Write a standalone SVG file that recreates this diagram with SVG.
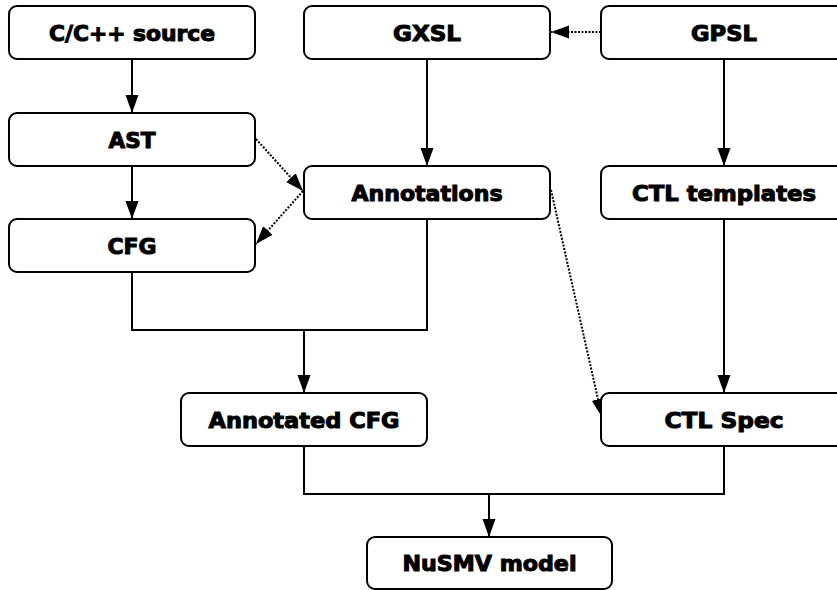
<svg xmlns="http://www.w3.org/2000/svg" width="837" height="590" viewBox="0 0 837 590">
<style>
.box{fill:#fff;stroke:#000;stroke-width:2}
.lbl{font-family:"DejaVu Sans","Liberation Sans",sans-serif;font-weight:bold;font-size:20.5px;fill:#000;stroke:#000;stroke-width:1;text-anchor:middle}
.solid{fill:none;stroke:#000;stroke-width:2}
.dot{fill:none;stroke:#000;stroke-width:2;stroke-dasharray:2 1.5}
</style>
<defs>
<marker id="ah" markerUnits="userSpaceOnUse" markerWidth="19" markerHeight="16" viewBox="0 0 19 16" refX="18" refY="8" orient="auto">
<path d="M0,1.5 L18,8 L0,14.5 Z" fill="#000"/>
</marker>
</defs>
<rect width="837" height="590" fill="#fff"/>
<g id="connectors">
<path class="solid" d="M132 59 V113" marker-end="url(#ah)"/>
<path class="solid" d="M132 166 V219" marker-end="url(#ah)"/>
<path class="solid" d="M427 59 V166" marker-end="url(#ah)"/>
<path class="solid" d="M724 59 V166" marker-end="url(#ah)"/>
<path class="solid" d="M724 219 V393" marker-end="url(#ah)"/>
<path class="solid" d="M132 272 V330 H427 V219"/>
<path class="solid" d="M304 330 V393" marker-end="url(#ah)"/>
<path class="solid" d="M304 446 V494 H724 V446"/>
<path class="solid" d="M489 494 V537" marker-end="url(#ah)"/>
<path class="dot" d="M601 32 H551" marker-end="url(#ah)"/>
<path class="dot" d="M256 139 L303 191" marker-end="url(#ah)"/>
<path class="dot" d="M303 191 L256 244" marker-end="url(#ah)"/>
<path class="dot" d="M551 190 L602 417" marker-end="url(#ah)"/>
</g>
<g id="src"><rect class="box" x="9" y="6" width="246" height="53" rx="8"/><text class="lbl" x="132" y="41" textLength="166" lengthAdjust="spacingAndGlyphs">C/C++ source</text></g>
<g id="ast"><rect class="box" x="9" y="113" width="246" height="53" rx="8"/><text class="lbl" x="132" y="148" textLength="47" lengthAdjust="spacingAndGlyphs">AST</text></g>
<g id="cfg"><rect class="box" x="9" y="219" width="246" height="53" rx="8"/><text class="lbl" x="132" y="254" textLength="49" lengthAdjust="spacingAndGlyphs">CFG</text></g>
<g id="gxsl"><rect class="box" x="304" y="6" width="246" height="53" rx="8"/><text class="lbl" x="427" y="41" textLength="68" lengthAdjust="spacingAndGlyphs">GXSL</text></g>
<g id="annotations"><rect class="box" x="304" y="166" width="246" height="53" rx="8"/><text class="lbl" x="427" y="201" textLength="151" lengthAdjust="spacingAndGlyphs">Annotations</text></g>
<g id="gpsl"><rect class="box" x="601" y="6" width="246" height="53" rx="8"/><text class="lbl" x="724" y="41" textLength="66" lengthAdjust="spacingAndGlyphs">GPSL</text></g>
<g id="ctl-templates"><rect class="box" x="601" y="166" width="246" height="53" rx="8"/><text class="lbl" x="724" y="201" textLength="184" lengthAdjust="spacingAndGlyphs">CTL templates</text></g>
<g id="annotated-cfg"><rect class="box" x="181" y="393" width="246" height="53" rx="8"/><text class="lbl" x="304" y="428" textLength="191" lengthAdjust="spacingAndGlyphs">Annotated CFG</text></g>
<g id="ctl-spec"><rect class="box" x="601" y="393" width="246" height="53" rx="8"/><text class="lbl" x="724" y="428" textLength="119" lengthAdjust="spacingAndGlyphs">CTL Spec</text></g>
<g id="nusmv"><rect class="box" x="367" y="537" width="245" height="52" rx="8"/><text class="lbl" x="489.5" y="571" textLength="174" lengthAdjust="spacingAndGlyphs">NuSMV model</text></g>
</svg>
